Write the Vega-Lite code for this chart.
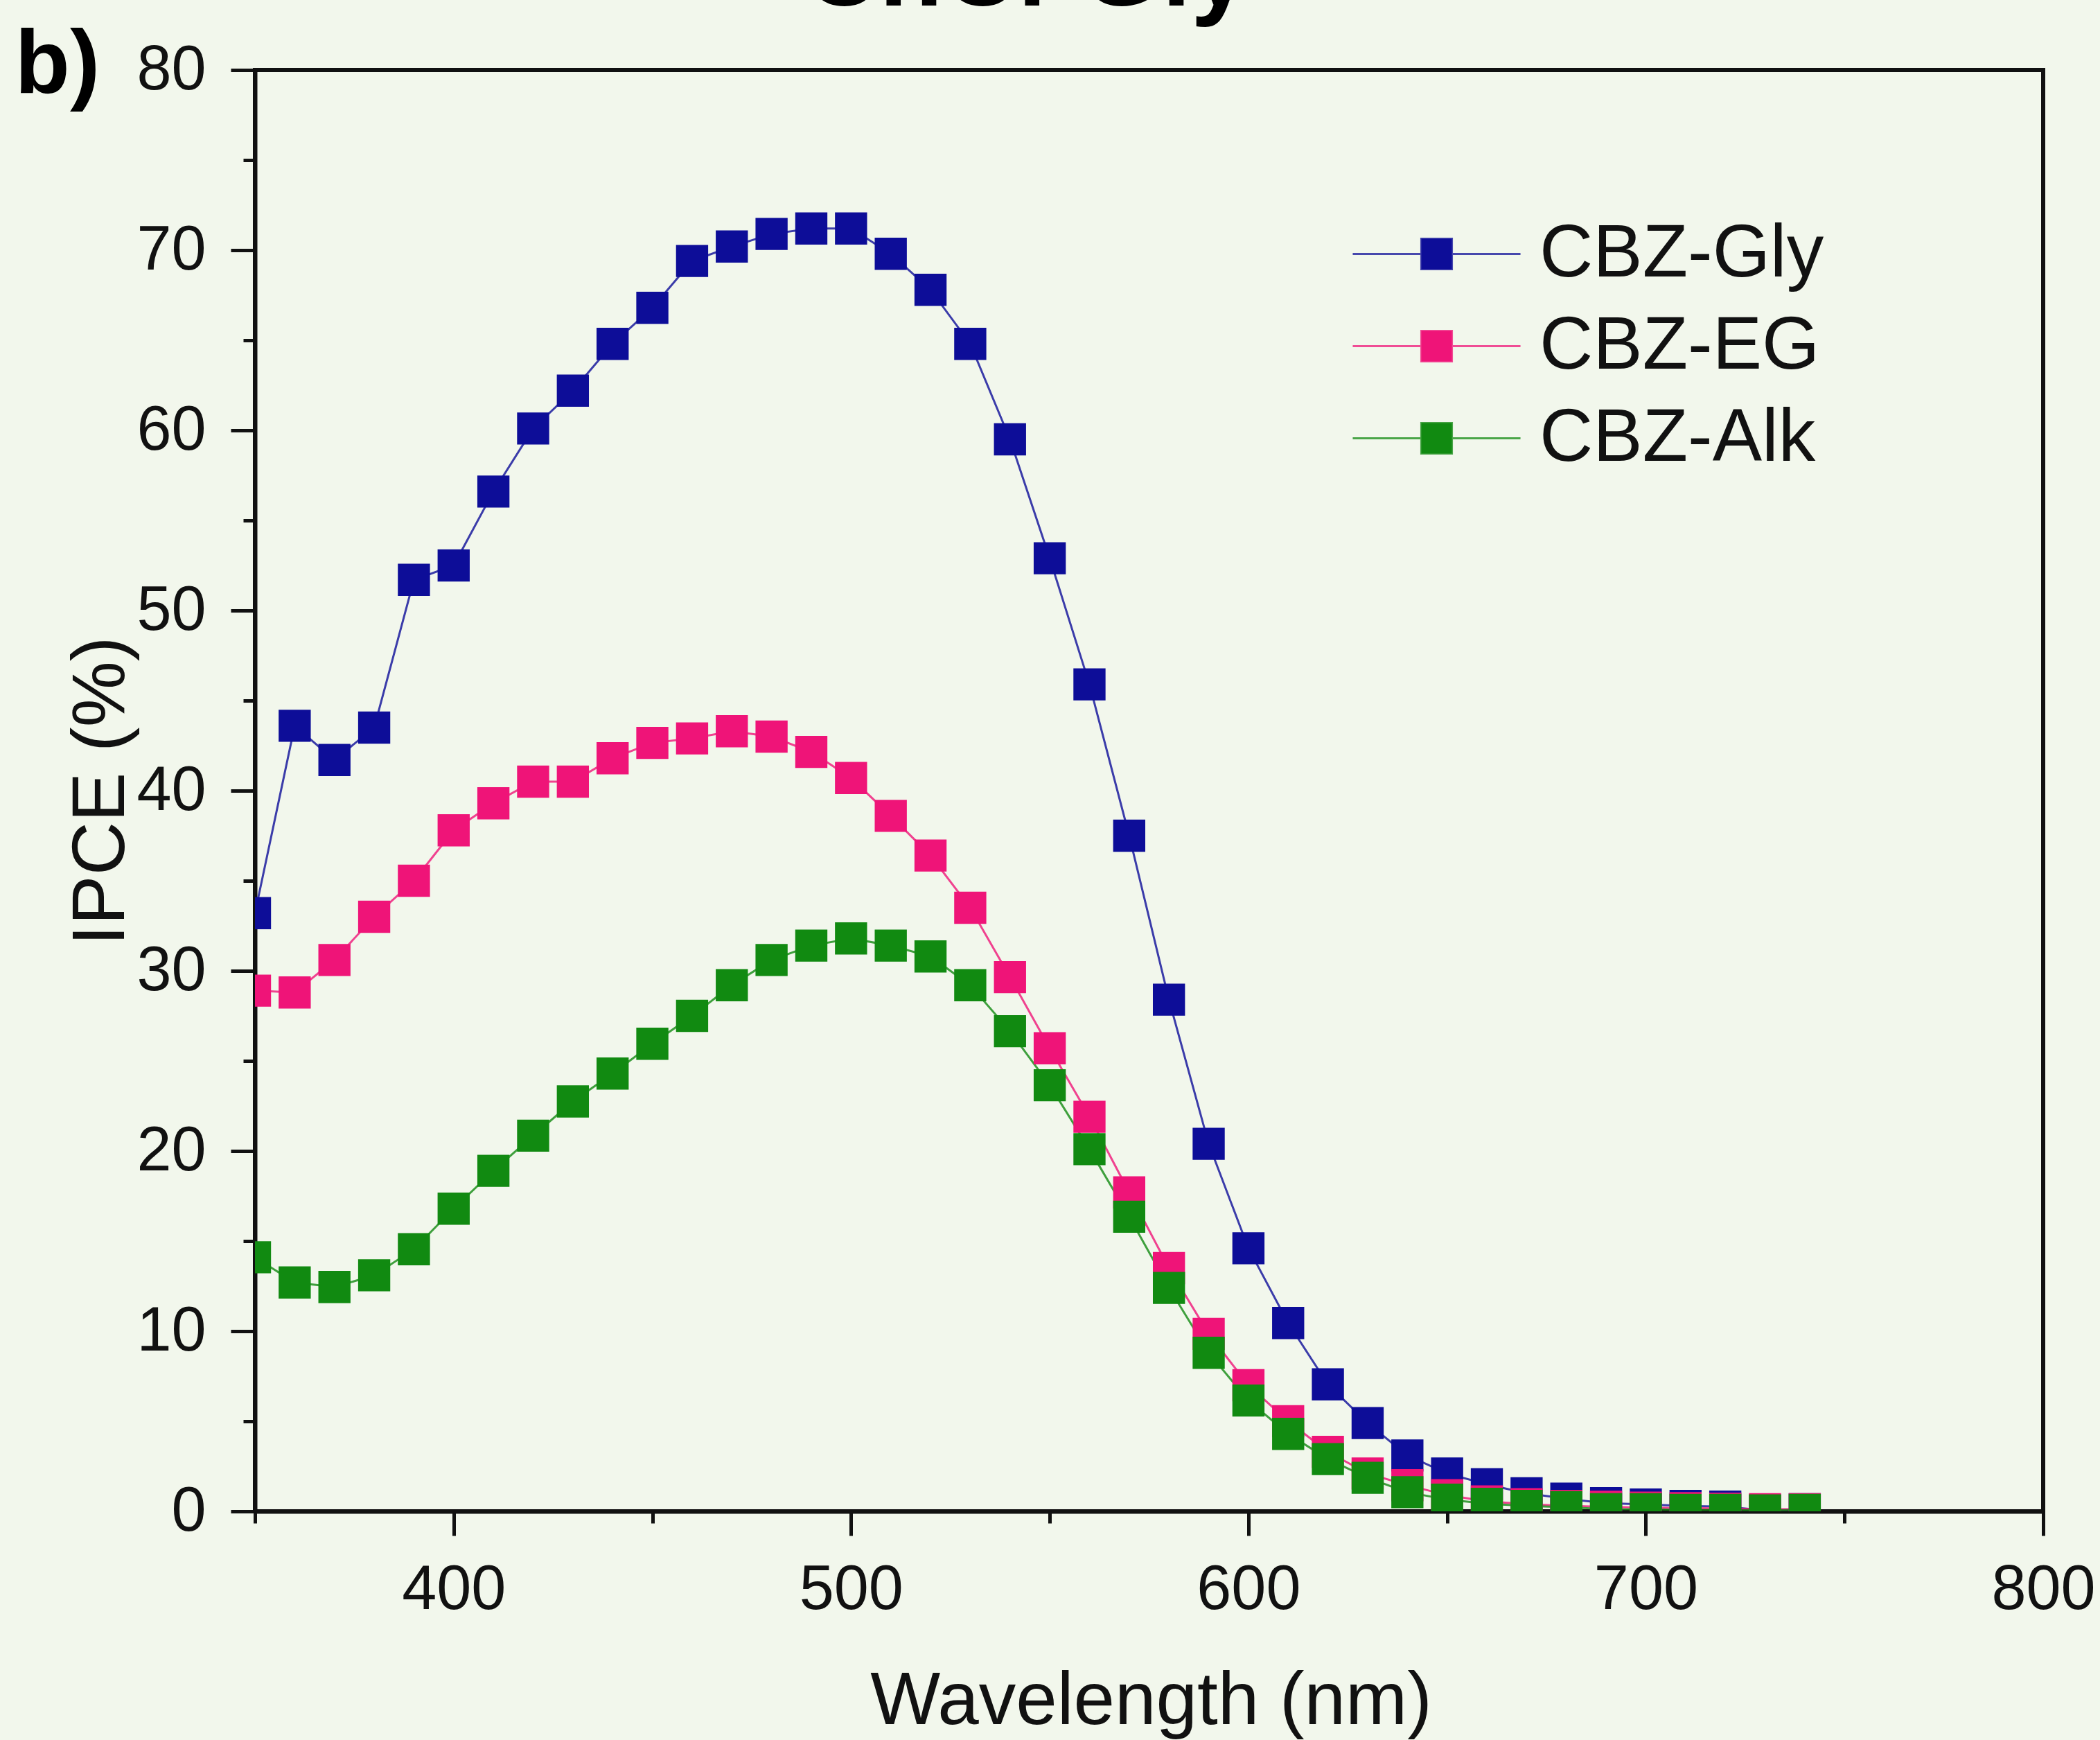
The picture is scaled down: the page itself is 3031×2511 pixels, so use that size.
{
  "$schema": "https://vega.github.io/schema/vega-lite/v6.json",
  "width": 2581,
  "height": 2080,
  "autosize": {"type": "none"},
  "padding": {"left": 368, "top": 101, "right": 82, "bottom": 330},
  "background": "#f2f7ec",
  "config": {
    "view": {"stroke": "#111111", "strokeWidth": 6},
    "font": "Liberation Sans",
    "axis": {"grid": false, "zindex": 1}
  },
  "data": {
    "values": [
      {"s": "CBZ-Gly", "wl": 350, "v": 33.2}, {"s": "CBZ-Gly", "wl": 360, "v": 43.6}, {"s": "CBZ-Gly", "wl": 370, "v": 41.7}, {"s": "CBZ-Gly", "wl": 380, "v": 43.5}, {"s": "CBZ-Gly", "wl": 390, "v": 51.7}, {"s": "CBZ-Gly", "wl": 400, "v": 52.5}, {"s": "CBZ-Gly", "wl": 410, "v": 56.6}, {"s": "CBZ-Gly", "wl": 420, "v": 60.1}, {"s": "CBZ-Gly", "wl": 430, "v": 62.2}, {"s": "CBZ-Gly", "wl": 440, "v": 64.8}, {"s": "CBZ-Gly", "wl": 450, "v": 66.8}, {"s": "CBZ-Gly", "wl": 460, "v": 69.4}, {"s": "CBZ-Gly", "wl": 470, "v": 70.2}, {"s": "CBZ-Gly", "wl": 480, "v": 70.9}, {"s": "CBZ-Gly", "wl": 490, "v": 71.2}, {"s": "CBZ-Gly", "wl": 500, "v": 71.2}, {"s": "CBZ-Gly", "wl": 510, "v": 69.8}, {"s": "CBZ-Gly", "wl": 520, "v": 67.8}, {"s": "CBZ-Gly", "wl": 530, "v": 64.8}, {"s": "CBZ-Gly", "wl": 540, "v": 59.5}, {"s": "CBZ-Gly", "wl": 550, "v": 52.9}, {"s": "CBZ-Gly", "wl": 560, "v": 45.9}, {"s": "CBZ-Gly", "wl": 570, "v": 37.5}, {"s": "CBZ-Gly", "wl": 580, "v": 28.4}, {"s": "CBZ-Gly", "wl": 590, "v": 20.4}, {"s": "CBZ-Gly", "wl": 600, "v": 14.6}, {"s": "CBZ-Gly", "wl": 610, "v": 10.45}, {"s": "CBZ-Gly", "wl": 620, "v": 7.05}, {"s": "CBZ-Gly", "wl": 630, "v": 4.9}, {"s": "CBZ-Gly", "wl": 640, "v": 3.1}, {"s": "CBZ-Gly", "wl": 650, "v": 2.1}, {"s": "CBZ-Gly", "wl": 660, "v": 1.5}, {"s": "CBZ-Gly", "wl": 670, "v": 1.0}, {"s": "CBZ-Gly", "wl": 680, "v": 0.7}, {"s": "CBZ-Gly", "wl": 690, "v": 0.45}, {"s": "CBZ-Gly", "wl": 700, "v": 0.38}, {"s": "CBZ-Gly", "wl": 710, "v": 0.3}, {"s": "CBZ-Gly", "wl": 720, "v": 0.26}, {"s": "CBZ-Gly", "wl": 730, "v": 0.05}, {"s": "CBZ-Gly", "wl": 740, "v": 0.12},
      {"s": "CBZ-EG", "wl": 350, "v": 28.9}, {"s": "CBZ-EG", "wl": 360, "v": 28.8}, {"s": "CBZ-EG", "wl": 370, "v": 30.6}, {"s": "CBZ-EG", "wl": 380, "v": 33.0}, {"s": "CBZ-EG", "wl": 390, "v": 35.0}, {"s": "CBZ-EG", "wl": 400, "v": 37.8}, {"s": "CBZ-EG", "wl": 410, "v": 39.3}, {"s": "CBZ-EG", "wl": 420, "v": 40.5}, {"s": "CBZ-EG", "wl": 430, "v": 40.5}, {"s": "CBZ-EG", "wl": 440, "v": 41.8}, {"s": "CBZ-EG", "wl": 450, "v": 42.65}, {"s": "CBZ-EG", "wl": 460, "v": 42.9}, {"s": "CBZ-EG", "wl": 470, "v": 43.3}, {"s": "CBZ-EG", "wl": 480, "v": 43.0}, {"s": "CBZ-EG", "wl": 490, "v": 42.15}, {"s": "CBZ-EG", "wl": 500, "v": 40.7}, {"s": "CBZ-EG", "wl": 510, "v": 38.6}, {"s": "CBZ-EG", "wl": 520, "v": 36.4}, {"s": "CBZ-EG", "wl": 530, "v": 33.5}, {"s": "CBZ-EG", "wl": 540, "v": 29.65}, {"s": "CBZ-EG", "wl": 550, "v": 25.7}, {"s": "CBZ-EG", "wl": 560, "v": 21.9}, {"s": "CBZ-EG", "wl": 570, "v": 17.7}, {"s": "CBZ-EG", "wl": 580, "v": 13.5}, {"s": "CBZ-EG", "wl": 590, "v": 9.85}, {"s": "CBZ-EG", "wl": 600, "v": 7.0}, {"s": "CBZ-EG", "wl": 610, "v": 5.0}, {"s": "CBZ-EG", "wl": 620, "v": 3.3}, {"s": "CBZ-EG", "wl": 630, "v": 2.1}, {"s": "CBZ-EG", "wl": 640, "v": 1.45}, {"s": "CBZ-EG", "wl": 650, "v": 0.9}, {"s": "CBZ-EG", "wl": 660, "v": 0.55}, {"s": "CBZ-EG", "wl": 670, "v": 0.4}, {"s": "CBZ-EG", "wl": 680, "v": 0.3}, {"s": "CBZ-EG", "wl": 690, "v": 0.25}, {"s": "CBZ-EG", "wl": 700, "v": 0.2}, {"s": "CBZ-EG", "wl": 710, "v": 0.18}, {"s": "CBZ-EG", "wl": 720, "v": 0.15}, {"s": "CBZ-EG", "wl": 730, "v": 0.12}, {"s": "CBZ-EG", "wl": 740, "v": 0.12},
      {"s": "CBZ-Alk", "wl": 350, "v": 14.1}, {"s": "CBZ-Alk", "wl": 360, "v": 12.7}, {"s": "CBZ-Alk", "wl": 370, "v": 12.45}, {"s": "CBZ-Alk", "wl": 380, "v": 13.1}, {"s": "CBZ-Alk", "wl": 390, "v": 14.55}, {"s": "CBZ-Alk", "wl": 400, "v": 16.8}, {"s": "CBZ-Alk", "wl": 410, "v": 18.9}, {"s": "CBZ-Alk", "wl": 420, "v": 20.85}, {"s": "CBZ-Alk", "wl": 430, "v": 22.75}, {"s": "CBZ-Alk", "wl": 440, "v": 24.3}, {"s": "CBZ-Alk", "wl": 450, "v": 25.95}, {"s": "CBZ-Alk", "wl": 460, "v": 27.5}, {"s": "CBZ-Alk", "wl": 470, "v": 29.2}, {"s": "CBZ-Alk", "wl": 480, "v": 30.6}, {"s": "CBZ-Alk", "wl": 490, "v": 31.4}, {"s": "CBZ-Alk", "wl": 500, "v": 31.8}, {"s": "CBZ-Alk", "wl": 510, "v": 31.4}, {"s": "CBZ-Alk", "wl": 520, "v": 30.8}, {"s": "CBZ-Alk", "wl": 530, "v": 29.2}, {"s": "CBZ-Alk", "wl": 540, "v": 26.65}, {"s": "CBZ-Alk", "wl": 550, "v": 23.65}, {"s": "CBZ-Alk", "wl": 560, "v": 20.1}, {"s": "CBZ-Alk", "wl": 570, "v": 16.35}, {"s": "CBZ-Alk", "wl": 580, "v": 12.4}, {"s": "CBZ-Alk", "wl": 590, "v": 8.8}, {"s": "CBZ-Alk", "wl": 600, "v": 6.15}, {"s": "CBZ-Alk", "wl": 610, "v": 4.3}, {"s": "CBZ-Alk", "wl": 620, "v": 2.9}, {"s": "CBZ-Alk", "wl": 630, "v": 1.86}, {"s": "CBZ-Alk", "wl": 640, "v": 1.06}, {"s": "CBZ-Alk", "wl": 650, "v": 0.65}, {"s": "CBZ-Alk", "wl": 660, "v": 0.42}, {"s": "CBZ-Alk", "wl": 670, "v": 0.3}, {"s": "CBZ-Alk", "wl": 680, "v": 0.23}, {"s": "CBZ-Alk", "wl": 690, "v": 0.12}, {"s": "CBZ-Alk", "wl": 700, "v": 0.12}, {"s": "CBZ-Alk", "wl": 710, "v": 0.08}, {"s": "CBZ-Alk", "wl": 720, "v": 0.08}, {"s": "CBZ-Alk", "wl": 730, "v": 0.05}, {"s": "CBZ-Alk", "wl": 740, "v": 0.08}
    ]
  },
  "layer": [
    {
      "mark": {"type": "line", "strokeWidth": 3, "opacity": 0.8, "clip": true},
      "encoding": {
        "x": {
          "field": "wl", "type": "quantitative",
          "scale": {"domain": [350, 800], "nice": false, "zero": false},
          "axis": {
            "orient": "bottom", "values": [400, 500, 600, 700, 800],
            "domain": true, "domainColor": "#111111", "domainWidth": 6,
            "ticks": true, "tickSize": 35, "tickWidth": 5, "tickColor": "#111111",
            "labelFontSize": 90, "labelColor": "#111111", "labelPadding": 34, "labelFlush": false, "labelOverlap": false,
            "title": "Wavelength (nm)", "titleFontSize": 107, "titleFontWeight": "normal", "titleColor": "#111111",
            "titleX": 1293, "titleY": 306, "titleBaseline": "alphabetic", "titleAlign": "center"
          }
        },
        "y": {
          "field": "v", "type": "quantitative",
          "scale": {"domain": [0, 80], "nice": false},
          "axis": {
            "orient": "left", "values": [0, 10, 20, 30, 40, 50, 60, 70, 80],
            "domain": true, "domainColor": "#111111", "domainWidth": 6,
            "ticks": true, "tickSize": 35, "tickWidth": 5, "tickColor": "#111111",
            "labelFontSize": 90, "labelColor": "#111111", "labelPadding": 36, "labelFlush": false, "labelOverlap": false,
            "title": "IPCE (%)", "titleFontSize": 107, "titleFontWeight": "normal", "titleColor": "#111111",
            "titleAngle": 270, "titleX": -190, "titleY": 1040, "titleBaseline": "alphabetic", "titleAlign": "center"
          }
        },
        "color": {
          "field": "s", "type": "nominal",
          "scale": {"domain": ["CBZ-Gly", "CBZ-EG", "CBZ-Alk"], "range": ["#0d0d98", "#ef1478", "#118a11"]},
          "legend": {
            "orient": "none", "legendX": 1652, "legendY": 212, "title": null,
            "symbolType": "M-2.69,0H2.69M-0.49,-0.49H0.49V0.49H-0.49Z",
            "symbolSize": 8100, "symbolStrokeWidth": 3, "symbolOpacity": 1,
            "labelFontSize": 107, "labelColor": "#111111", "labelOffset": 95, "labelLimit": 2000,
            "rowPadding": 25, "padding": 0,
            "encode": {"symbols": {"update": {"stroke": {"scale": "color", "field": "value"}, "fill": {"scale": "color", "field": "value"}, "strokeWidth": {"value": 3}, "opacity": {"value": 1}, "fillOpacity": {"value": 1}, "strokeOpacity": {"value": 0.75}}}}
          }
        }
      }
    },
    {
      "mark": {"type": "point", "shape": "square", "filled": true, "size": 2150, "opacity": 1, "clip": true},
      "encoding": {
        "x": {
          "field": "wl", "type": "quantitative",
          "axis": {
            "orient": "bottom", "values": [350, 450, 550, 650, 750],
            "domain": false, "ticks": true, "tickSize": 17, "tickWidth": 5, "tickColor": "#111111",
            "labels": false, "title": null
          }
        },
        "y": {
          "field": "v", "type": "quantitative",
          "axis": {
            "orient": "left", "values": [5, 15, 25, 35, 45, 55, 65, 75],
            "domain": false, "ticks": true, "tickSize": 17, "tickWidth": 5, "tickColor": "#111111",
            "labels": false, "title": null
          }
        },
        "color": {
          "field": "s", "type": "nominal",
          "legend": {
            "orient": "none", "legendX": 1652, "legendY": 212, "title": null,
            "symbolType": "M-2.69,0H2.69M-0.49,-0.49H0.49V0.49H-0.49Z",
            "symbolSize": 8100, "symbolStrokeWidth": 3, "symbolOpacity": 1,
            "labelFontSize": 107, "labelColor": "#111111", "labelOffset": 95, "labelLimit": 2000,
            "rowPadding": 25, "padding": 0,
            "encode": {"symbols": {"update": {"stroke": {"scale": "color", "field": "value"}, "fill": {"scale": "color", "field": "value"}, "strokeWidth": {"value": 3}, "opacity": {"value": 1}, "fillOpacity": {"value": 1}, "strokeOpacity": {"value": 0.75}}}}
          }
        }
      }
    },
    {
      "mark": {"type": "point", "opacity": 0},
      "encoding": {
        "x": {
          "field": "wl", "type": "quantitative",
          "axis": {
            "orient": "top", "domain": false, "ticks": false, "labels": false,
            "title": "ChCl-Gly", "titleFontSize": 150, "titleFontWeight": "bold", "titleColor": "#000000",
            "titleX": 1113, "titleY": -94, "titleBaseline": "alphabetic", "titleAlign": "center"
          }
        },
        "y": {
          "field": "v", "type": "quantitative",
          "axis": {
            "orient": "right", "domain": false, "ticks": false, "labels": false,
            "title": "b)", "titleFontSize": 130, "titleFontWeight": "bold", "titleColor": "#000000",
            "titleAngle": 0, "titleX": -2928, "titleY": 32, "titleBaseline": "alphabetic", "titleAlign": "left"
          }
        }
      }
    }
  ],
  "resolve": {"axis": {"x": "independent", "y": "independent"}}
}
